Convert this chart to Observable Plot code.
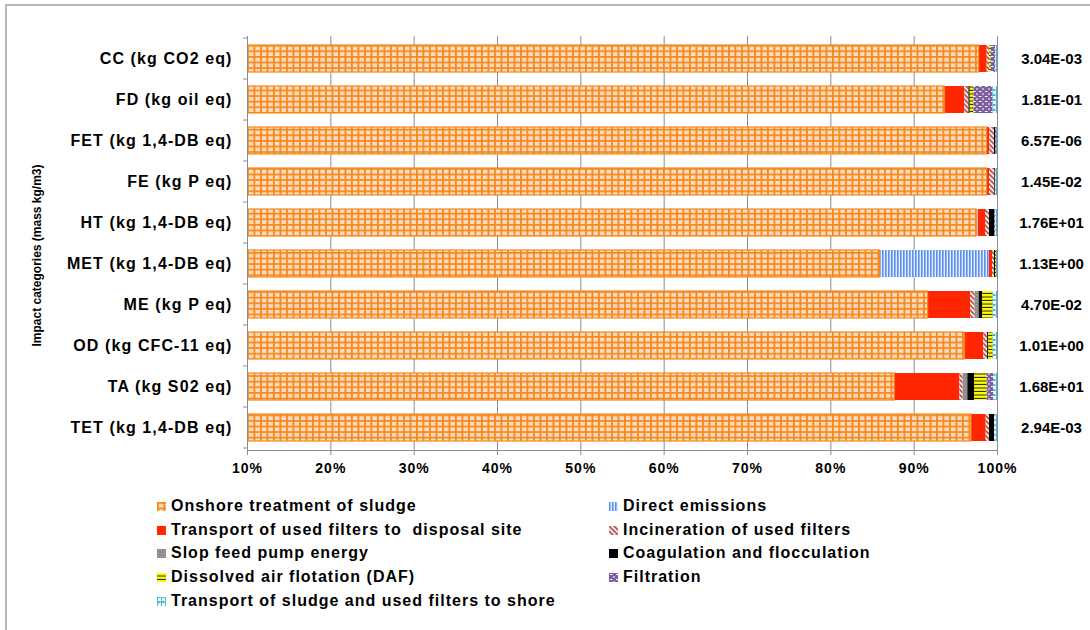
<!DOCTYPE html>
<html>
<head>
<meta charset="utf-8">
<script src="https://cdn.jsdelivr.net/npm/d3@7"></script>
<script src="https://cdn.jsdelivr.net/npm/@observablehq/plot@0.6"></script>
<style>
html,body{margin:0;padding:0;background:#fff;}
#wrap{position:relative;width:1090px;height:630px;overflow:hidden;font-family:"Liberation Sans",Arial,sans-serif;color:#000;background:#fff;}
#frame{position:absolute;left:5px;top:4px;width:1200px;height:800px;border:2px solid #b8b8b8;box-sizing:border-box;pointer-events:none;z-index:5;}
#chart{position:absolute;left:0;top:0;}
.li{position:absolute;height:18px;display:flex;align-items:center;font-weight:bold;font-size:16px;letter-spacing:1px;white-space:nowrap;line-height:1;}
.li svg{margin-right:5px;flex:none;}
g[aria-label="y-axis tick label"] text{letter-spacing:1.1px;}
g[aria-label="x-axis tick label"] text{letter-spacing:1px;}
g[aria-label="totals"] text{letter-spacing:1px;}
g[aria-label="x-axis tick"]{stroke:#8c8c8c;}
</style>
</head>
<body>
<svg width="0" height="0" style="position:absolute">
<defs>
<pattern id="p-onshore" patternUnits="userSpaceOnUse" width="6.5" height="5.6">
<rect width="6.5" height="5.6" fill="#fdd9be"/>
<rect x="0" y="0" width="1.8" height="5.6" fill="#f5891c"/>
<rect x="0" y="0" width="6.5" height="1.7" fill="#f5891c"/>
</pattern>
<pattern id="p-direct" patternUnits="userSpaceOnUse" width="3" height="4">
<rect width="3" height="4" fill="#e3edfc"/>
<rect width="1.6" height="4" fill="#5b8ff0"/>
</pattern>
<pattern id="p-incin" patternUnits="userSpaceOnUse" width="5" height="5">
<rect width="5" height="5" fill="#efeded"/>
<path d="M0,0 L5,5 M-1,4 L1,6 M4,-1 L6,1" stroke="#c0504d" stroke-width="1.6"/>
</pattern>
<pattern id="p-slop" patternUnits="userSpaceOnUse" width="3" height="3">
<rect width="3" height="3" fill="#8e8e8e"/>
<rect x="1" y="1" width="1" height="1" fill="#a8a8a8"/>
</pattern>
<pattern id="p-daf" patternUnits="userSpaceOnUse" width="4" height="3.5">
<rect width="4" height="3.5" fill="#ffff00"/>
<rect y="2.5" width="4" height="1" fill="#222"/>
</pattern>
<pattern id="p-filt" patternUnits="userSpaceOnUse" width="6" height="5">
<rect width="6" height="5" fill="#7d5fa0"/>
<rect x="1" y="1" width="2.5" height="1" fill="#fff"/>
<rect x="4" y="3.5" width="2" height="1" fill="#fff"/>
</pattern>
<pattern id="p-sludge" patternUnits="userSpaceOnUse" width="4" height="5">
<rect width="4" height="5" fill="#eaf7fb"/>
<path d="M0.5,0 V5 M0.5,0.5 H3.5 M0.5,4.5 H3.5" stroke="#4fb6d3" stroke-width="1"/>
</pattern>
</defs>
</svg>
<div id="wrap">
<div id="chart"></div>
<div id="legend"></div>
<div id="frame"></div>
</div>
<script>
// ---- data ----
const categories = ["CC (kg CO2 eq)", "FD (kg oil eq)", "FET (kg 1,4-DB eq)", "FE (kg P eq)", "HT (kg 1,4-DB eq)", "MET (kg 1,4-DB eq)", "ME (kg P eq)", "OD (kg CFC-11 eq)", "TA (kg S02 eq)", "TET (kg 1,4-DB eq)"];
const totals = ["3.04E-03", "1.81E-01", "6.57E-06", "1.45E-02", "1.76E+01", "1.13E+00", "4.70E-02", "1.01E+00", "1.68E+01", "2.94E-03"];
const processes = ["Onshore treatment of sludge", "Direct emissions", "Transport of used filters to  disposal site", "Incineration of used filters", "Slop feed pump energy", "Coagulation and flocculation", "Dissolved air flotation (DAF)", "Filtration", "Transport of sludge and used filters to shore"];
// shares in % per category (same order as categories)
const onshore          = [97.8, 93.7, 98.76, 98.76, 97.48, 85.9, 91.68, 96.1, 87.68, 96.88];
const directEmissions  = [0, 0, 0, 0, 0.2, 13.14, 0, 0, 0, 0];
const transportFilters = [0.96, 2.36, 0.32, 0.28, 0.88, 0.36, 5.08, 2.24, 7.8, 1.76];
const incineration     = [0.3, 0.52, 0.56, 0.64, 0.48, 0.24, 0.56, 0.48, 0.4, 0.4];
const slopFeed         = [0, 0, 0, 0, 0, 0, 0.48, 0, 0.56, 0];
const coagulation      = [0, 0.15, 0.12, 0.12, 0.6, 0.12, 0.4, 0.14, 0.8, 0.6];
const daf              = [0.2, 0.45, 0, 0, 0, 0.12, 1.28, 0.52, 1.52, 0];
const filtration       = [0.5, 2.28, 0.12, 0, 0.12, 0, 0, 0, 0.8, 0];
const transportSludge  = [0.25, 0.56, 0.12, 0.2, 0.24, 0.12, 0.52, 0.52, 0.44, 0.36];
const xTicks = [10, 20, 30, 40, 50, 60, 70, 80, 90, 100];
const yTitle = "Impact categories (mass kg/m3)";

const series = [onshore, directEmissions, transportFilters, incineration, slopFeed, coagulation, daf, filtration, transportSludge];
const fills = ["url(#p-onshore)", "url(#p-direct)", "#ff2600", "url(#p-incin)", "url(#p-slop)", "#000000", "url(#p-daf)", "url(#p-filt)", "url(#p-sludge)"];

const rows = [];
categories.forEach((c, i) => processes.forEach((p, j) => {
  if (series[j][i] > 0) rows.push({category: c, process: p, share: series[j][i]});
}));
const sums = categories.map((c, i) => d3.sum(series, s => s[i]));
const onshoreRows = categories.map((c, i) => ({category: c, share: onshore[i]}));

const grey = "#8c8c8c";
const chart = Plot.plot({
  width: 1090,
  height: 490,
  marginLeft: 247,
  marginRight: 93,
  marginTop: 36,
  marginBottom: 40,
  style: {fontFamily: "'Liberation Sans', Arial, sans-serif", color: "#000", background: "transparent"},
  x: {domain: [10, 100]},
  y: {domain: categories, paddingInner: 0.33, paddingOuter: 0.165},
  color: {type: "ordinal", domain: processes, range: fills},
  marks: [
    Plot.gridX(xTicks.slice(1), {stroke: grey, strokeOpacity: 1}),
    Plot.barX(rows, Plot.stackX({x: "share", y: "category", fill: "process", order: processes, clip: true})),
    Plot.barX(onshoreRows, {x: "share", y: "category", fill: "none", stroke: "#f5891c", strokeWidth: 1.2, clip: true}),
    Plot.ruleX([xTicks[0]], {stroke: grey}),
    Plot.frame({anchor: "bottom", stroke: grey}),
    Plot.axisY({tickSize: 0, tickPadding: 15, fontSize: 16, fontWeight: "bold", label: null}),
    Plot.axisX({ticks: xTicks, tickSize: 5, tickPadding: 8, tickFormat: d => d + "%", fontSize: 14, fontWeight: "bold", label: null}),
    Plot.text(categories, {y: d => d, x: (d, i) => sums[i], text: (d, i) => totals[i], dx: 54, textAnchor: "middle", fontSize: 15, fontWeight: "bold", ariaLabel: "totals"}),
    Plot.text([yTitle], {text: d => d, frameAnchor: "left", textAnchor: "middle", rotate: -90, dx: -210, dy: 12, fontSize: 12, fontWeight: "bold"})
  ]
});
document.getElementById("chart").appendChild(chart);

// boundary tick marks on the category axis (Excel style)
const ys = chart.scale("y");
const xs = chart.scale("x");
const bw = ys.bandwidth;
const step = ys.step || bw / 0.67;
const bounds = categories.map(c => ys.apply(c) - (step - bw) / 2);
bounds.push(bounds[bounds.length - 1] + step);
const x0 = xs.apply(xTicks[0]);
d3.select(chart).append("g").attr("stroke", grey)
  .selectAll("line").data(bounds).join("line")
  .attr("x1", x0 - 4).attr("x2", x0).attr("y1", d => d).attr("y2", d => d);

// legend
const legendPos = [
  [157, 506], [609, 506], [157, 530], [609, 530], [157, 553], [609, 553], [157, 577], [609, 577], [157, 601]
];
const legend = document.getElementById("legend");
processes.forEach((p, j) => {
  const div = document.createElement("div");
  div.className = "li";
  div.style.left = legendPos[j][0] + "px";
  div.style.top = (legendPos[j][1] - 9) + "px";
  div.innerHTML = `<svg width="9" height="9"><rect width="9" height="9" fill="${fills[j]}"/></svg><span>${p.replace(/  /g, " &nbsp;")}</span>`;
  legend.appendChild(div);
});
</script>
</body>
</html>
